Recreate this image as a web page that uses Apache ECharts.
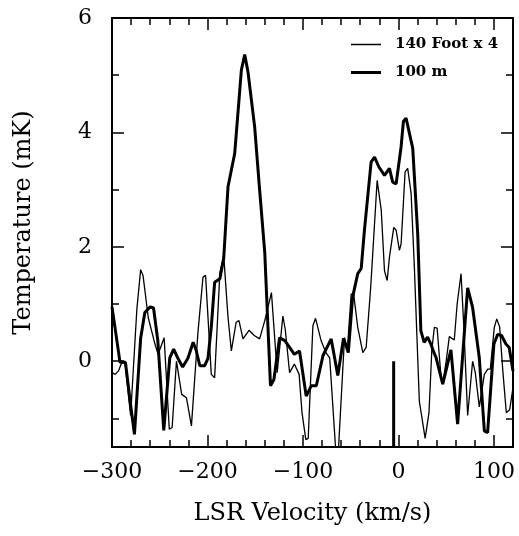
<!DOCTYPE html>
<html><head><meta charset="utf-8">
<script src="https://cdn.jsdelivr.net/npm/echarts@6/dist/echarts.min.js"></script>
<style>html,body{margin:0;padding:0;background:#fff}#c{width:519px;height:536px}</style>
</head><body><div id="c"></div>
<script>
// 140 Foot x 4 (thin line)
const thinVel = [-300,-296.6,-293.2,-290.4,-286.6,-280.5,-274,-270,-267.5,-262,-255,-251.7,-245.4,-240,-237,-232.5,-227,-222,-216.8,-210,-204.7,-202,-196,-192.5,-187,-183,-178.5,-175,-170,-167,-162.8,-156.5,-151,-145.4,-140,-133,-127,-121,-118.5,-114,-109,-104,-101,-97,-94.5,-89.6,-86.8,-81,-76,-72,-65.5,-63,-56.5,-53.5,-49.5,-47,-42.6,-37.3,-33.8,-29,-22.3,-18,-14.6,-11.8,-9.4,-4.9,-2.4,1,2.8,7,9.7,13.3,16.7,21.9,28,32,35,37.6,40.5,44.7,46.4,50,53.3,58.5,61.5,65.6,68.5,72.5,77.7,80.5,84.7,90,93.5,96.2,100.4,103,106,109.5,113,116.5,120];
const thinTemp = [-0.2,-0.23,-0.17,-0.05,0.0,-0.95,0.9,1.6,1.5,0.76,0.3,0.12,0.41,-1.19,-1.16,0.0,-0.58,-0.64,-1.13,0.5,1.47,1.5,-0.23,-0.29,1.55,1.85,0.77,0.18,0.68,0.71,0.39,0.54,0.45,0.39,0.71,1.2,-0.2,0.79,0.55,-0.2,-0.05,-0.23,-0.9,-1.37,-1.35,0.62,0.75,0.36,0.15,0.06,-1.6,-1.6,0.41,0.2,1.17,1.19,0.59,0.15,0.24,1.3,3.16,2.64,1.58,1.41,1.82,2.34,2.29,1.94,2.05,3.31,3.37,2.93,1.64,-0.7,-1.35,-0.9,0.2,0.59,0.58,-0.29,-0.4,0.0,0.43,0.37,1.0,1.53,0.6,-0.95,0.0,-0.2,-0.8,-0.23,-0.14,-0.14,0.59,0.74,0.6,-0.2,-0.9,-0.85,-0.46];
// 100 m (thick line)
const thickVel = [-300,-291.6,-285.9,-281,-276.5,-270,-265.6,-260,-256.5,-252,-245.8,-239.5,-235.4,-231,-226,-220.5,-215,-212,-208,-203,-199.5,-196,-192.5,-187,-183,-178.5,-171.5,-164.5,-161,-157.6,-150.6,-145.4,-140,-134,-130.4,-124.5,-119,-114,-109,-103.6,-96.6,-91.3,-86,-79,-70.4,-63.5,-57.5,-52.5,-48,-42.6,-39,-35.6,-28.6,-25,-20.6,-14.6,-9.4,-6,-2.4,2.8,5.2,8,15,20.2,23.5,27,30.5,34,36.5,39.5,46.4,50,55,62,72.5,77.7,84.7,90,93.4,100,104,108,112.6,116,120];
const thickTemp = [0.95,-0.02,-0.02,-0.7,-1.28,0.4,0.85,0.95,0.93,0.36,-1.21,0.06,0.21,0.05,-0.1,0.05,0.33,0.2,-0.08,-0.08,0.05,0.6,1.38,1.44,1.8,3.05,3.63,5.09,5.36,5.06,4.1,3.0,1.9,-0.43,-0.32,0.41,0.36,0.24,0.12,0.18,-0.61,-0.43,-0.43,0.1,0.39,-0.25,0.4,0.15,1.12,1.53,1.62,2.29,3.48,3.57,3.4,3.25,3.37,3.13,3.1,3.75,4.19,4.25,3.72,2.23,0.53,0.33,0.42,0.3,0.18,0.06,-0.4,-0.15,0.2,-1.1,1.28,0.94,0.06,-1.22,-1.25,0.3,0.47,0.45,0.3,0.24,-0.17];
// marker bar
const markerVel = [-5, -5];
const markerTemp = [-1.5, 0];
const xMajor = [-300, -200, -100, 0, 100];
const xMinor = [-280,-260,-240,-220,-180,-160,-140,-120,-80,-60,-40,-20,20,40,60,80,120];
const yMajor = [0, 2, 4, 6];
const yMinor = [-1, 1, 3, 5];

const zip = (a, b) => a.map((v, i) => [v, b[i]]);
const FONT = 'DejaVu Serif';
const minus = v => v < 0 ? '\u2212' + (-v) : String(v);
const line = {show: true, onZero: false, lineStyle: {color: '#000', width: 2}};
function xAx(pos, vals, len, labels) {
  const a = {type: 'value', min: -300, max: 120, position: pos, axisLine: line, splitLine: {show: false},
    axisTick: {show: true, inside: true, length: len, customValues: vals, lineStyle: {color: '#000', width: 1.5}},
    axisLabel: {show: false}};
  if (labels) {
    a.axisLabel = {show: true, customValues: xMajor, formatter: minus, fontFamily: FONT, fontSize: 22, color: '#000', margin: 14};
    a.name = 'LSR Velocity (km/s)'; a.nameLocation = 'middle'; a.nameGap = 55;
    a.nameTextStyle = {fontFamily: FONT, fontSize: 24, color: '#000'};
  }
  return a;
}
function yAx(pos, vals, len, labels) {
  const a = {type: 'value', min: -1.5, max: 6, position: pos, axisLine: line, splitLine: {show: false},
    axisTick: {show: true, inside: true, length: len, customValues: vals, lineStyle: {color: '#000', width: 1.5}},
    axisLabel: {show: false}};
  if (labels) {
    a.axisLabel = {show: true, customValues: yMajor, formatter: minus, fontFamily: FONT, fontSize: 22, color: '#000', margin: 20};
    a.name = 'Temperature (mK)'; a.nameLocation = 'middle'; a.nameGap = 76; a.nameRotate = 90;
    a.nameTextStyle = {fontFamily: FONT, fontSize: 24, color: '#000', padding: [0, 0, 0, 20]};
  }
  return a;
}
const chart = echarts.init(document.getElementById('c'), null, {renderer: 'canvas'});
chart.setOption({
  animation: false,
  backgroundColor: '#fff',
  grid: {left: 112, right: 6, top: 18, bottom: 89},
  xAxis: [xAx('bottom', xMajor, 12, true), xAx('bottom', xMinor, 7, false), xAx('top', xMajor, 12, false), xAx('top', xMinor, 7, false)],
  yAxis: [yAx('left', yMajor, 12, true), yAx('left', yMinor, 7, false), yAx('right', yMajor, 12, false), yAx('right', yMinor, 7, false)],
  legend: [
    {data: ['140 Foot x 4'], left: 346, top: 32, icon: 'rect', itemWidth: 30, itemHeight: 1.5,
     textStyle: {fontFamily: FONT, fontSize: 15, fontWeight: 'bold', color: '#000', padding: [0, 0, 0, 9]}},
    {data: ['100 m'], left: 346, top: 60, icon: 'rect', itemWidth: 30, itemHeight: 3,
     textStyle: {fontFamily: FONT, fontSize: 15, fontWeight: 'bold', color: '#000', padding: [0, 0, 0, 9]}}
  ],
  series: [
    {name: '140 Foot x 4', type: 'line', data: zip(thinVel, thinTemp), symbol: 'none', clip: true,
     lineStyle: {color: '#000', width: 1.3}, itemStyle: {color: '#000'}},
    {name: '100 m', type: 'line', data: zip(thickVel, thickTemp), symbol: 'none', clip: true,
     lineStyle: {color: '#000', width: 3}, itemStyle: {color: '#000'}},
    {name: 'marker', type: 'line', data: zip(markerVel, markerTemp), symbol: 'none', clip: true,
     lineStyle: {color: '#000', width: 3}, itemStyle: {color: '#000'}}
  ]
});
</script></body></html>
